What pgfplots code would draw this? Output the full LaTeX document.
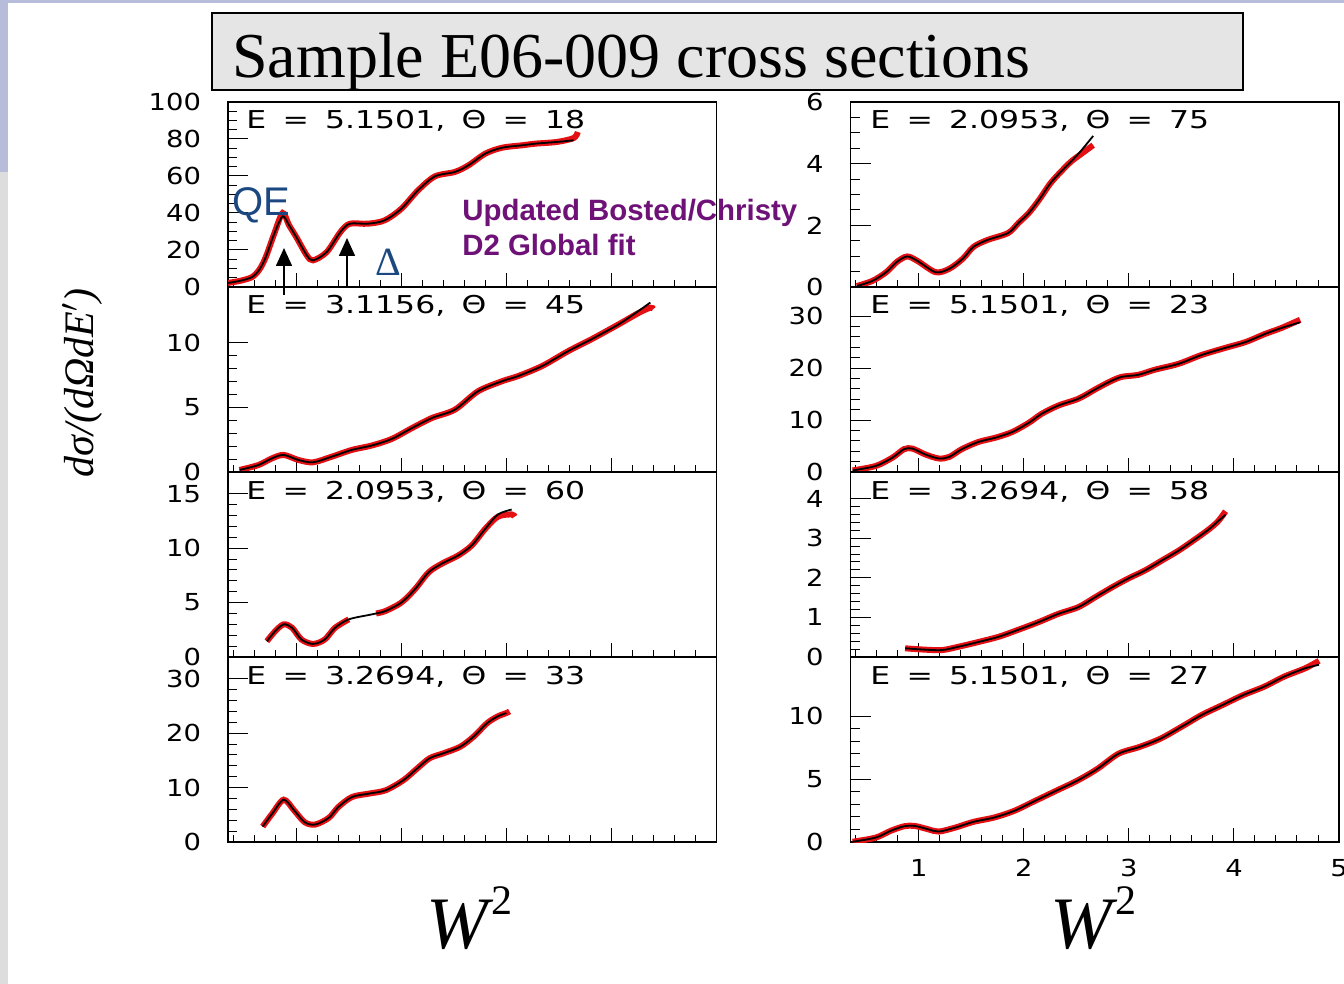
\documentclass[border=0pt]{standalone}
\usepackage{fontspec}
\setmainfont{Liberation Serif}
\newfontfamily\tickfont[FakeStretch=1.17]{DejaVu Sans}
\newfontfamily\hdrfont[FakeStretch=1.28]{DejaVu Sans}
\newfontfamily\notefont{Liberation Sans}
\usepackage{graphicx}
\usepackage{pgfplots}
\usepackage{pgfplotstable}
\pgfplotsset{compat=1.18}
\usetikzlibrary{arrows.meta}

\definecolor{dred}{RGB}{228,16,20}
\definecolor{qeblue}{RGB}{28,72,130}
\definecolor{fitpurple}{RGB}{110,18,120}
\definecolor{slidegray}{RGB}{221,221,221}
\definecolor{slideblue}{RGB}{182,188,218}
\definecolor{titlegray}{RGB}{229,229,229}

\newcommand\gap{\hspace{0.66em}}
\newcommand\hdr[2]{{\hdrfont\fontsize{12.3}{13}\selectfont E\gap=\gap#1,\gap Θ\gap=\gap#2}}
\newcommand\wsq{\textit{W}\kern-1pt\raisebox{17pt}{\fontsize{21}{21}\selectfont 2}}

% W^2 (GeV^2), fit, measured cross section
\pgfplotstableread{
W    fit   dat
0.35 2.2   2.2
0.47 3.4   3.4
0.58 5.4   5.4
0.65 9.5   9.5
0.71 16.2  16.2
0.79 28.8  28.8
0.87 38.2  40.0
0.93 33.5  33.5
1.00 27.0  27.0
1.10 17.1  17.1
1.16 14.4  14.4
1.29 18.9  18.9
1.42 29.7  29.7
1.51 34.2  34.2
1.68 34.2  34.2
1.84 36.0  36.0
2.00 42.3  42.3
2.16 52.3  52.3
2.32 59.8  59.8
2.51 62.2  62.2
2.64 65.8  65.8
2.80 72.1  72.1
2.96 75.3  75.3
3.15 76.6  76.6
3.28 77.5  77.5
3.48 78.4  78.4
3.64 79.3  80.5
3.68 nan   83.8
}\tabLa
\pgfplotstableread{
W    fit   dat
0.46 0.16  0.16
0.64 0.54  0.54
0.77 1.06  1.06
0.88 1.32  1.32
1.02 0.93  0.93
1.16 0.75  0.75
1.34 1.19  1.19
1.53 1.71  1.71
1.72 2.05  2.05
1.91 2.56  2.56
2.10 3.39  3.39
2.29 4.17  4.17
2.51 4.82  4.82
2.73 6.24  6.24
2.96 7.02  7.02
3.11 7.41  7.41
3.34 8.19  8.19
3.59 9.35  9.35
3.81 10.26 10.26
4.07 11.42 11.42
4.26 12.46 12.30
4.37 13.10 12.70
4.40 nan   12.60
}\tabLb
\pgfplotstableread{
W    fit   dat
0.72 1.45  1.45
0.80 2.38  2.38
0.88 3.00  3.00
0.96 2.69  2.69
1.05 1.60  1.60
1.16 1.20  1.20
1.27 1.60  1.60
1.37 2.69  2.69
1.50 3.46  3.46
1.69 3.86  nan
1.76 4.00  4.00
1.85 4.23  4.23
2.00 5.00  5.00
2.13 6.23  6.23
2.26 7.78  7.78
2.39 8.60  8.60
2.54 9.32  9.32
2.67 10.25 10.25
2.80 11.79 11.79
2.92 13.10 12.90
3.05 13.55 13.10
3.08 nan   12.90
}\tabLc
\pgfplotstableread{
W    fit   dat
0.68 2.84  2.84
0.77 5.19  5.19
0.88 7.78  7.78
0.98 5.80  5.80
1.08 3.64  3.64
1.18 3.21  3.21
1.31 4.44  4.44
1.40 6.42  6.42
1.53 8.27  8.27
1.69 8.89  8.89
1.85 9.50  9.50
2.02 11.36 11.36
2.15 13.50 13.50
2.27 15.40 15.40
2.40 16.30 16.30
2.56 17.50 17.50
2.69 19.40 19.40
2.82 21.90 21.90
2.92 23.10 23.10
3.00 23.70 23.70
3.03 nan   24.00
}\tabLd
\pgfplotstableread{
W    fit   dat
0.41 0.03  0.03
0.56 0.20  0.20
0.69 0.48  0.48
0.79 0.81  0.81
0.89 0.99  0.99
0.99 0.84  0.84
1.16 0.48  0.48
1.29 0.59  0.59
1.42 0.92  0.92
1.52 1.30  1.30
1.65 1.52  1.52
1.85 1.75  1.75
1.95 2.08  2.08
2.05 2.41  2.41
2.15 2.85  2.85
2.25 3.35  3.35
2.35 3.73  3.73
2.45 4.07  4.07
2.54 4.40  4.30
2.66 4.90  4.60
}\tabRa
\pgfplotstableread{
W    fit   dat
0.37 0.30  0.30
0.59 1.16  1.16
0.75 2.77  2.77
0.86 4.40  4.40
0.94 4.50  4.50
1.06 3.40  3.40
1.19 2.60  2.60
1.29 2.90  2.90
1.41 4.40  4.40
1.57 5.80  5.80
1.73 6.60  6.60
1.89 7.70  7.70
2.05 9.50  9.50
2.17 11.20 11.20
2.33 12.80 12.80
2.52 14.10 14.10
2.68 15.90 15.90
2.81 17.30 17.30
2.93 18.30 18.30
3.09 18.70 18.70
3.25 19.70 19.70
3.47 20.80 20.80
3.69 22.50 22.50
3.92 23.90 23.90
4.11 25.00 25.00
4.30 26.60 26.60
4.45 27.70 27.70
4.63 28.80 29.30
}\tabRb
\pgfplotstableread{
W    fit   dat
0.87 0.22  0.22
1.03 0.19  0.19
1.22 0.175 0.175
1.38 0.26  0.26
1.57 0.38  0.38
1.76 0.51  0.51
1.95 0.69  0.69
2.14 0.88  0.88
2.33 1.09  1.09
2.52 1.26  1.26
2.68 1.51  1.51
2.84 1.76  1.76
3.00 1.99  1.99
3.15 2.18  2.18
3.31 2.43  2.43
3.47 2.68  2.68
3.63 2.97  2.97
3.76 3.22  3.22
3.85 3.43  3.43
3.92 3.59  3.68
}\tabRc
\pgfplotstableread{
W    fit   dat
0.37 0.02  0.02
0.59 0.35  0.35
0.73 0.88  0.88
0.86 1.25  1.25
0.96 1.28  1.28
1.09 1.01  1.01
1.19 0.83  0.83
1.35 1.15  1.15
1.52 1.60  1.60
1.72 1.95  1.95
1.91 2.48  2.48
2.11 3.28  3.28
2.31 4.08  4.08
2.51 4.88  4.88
2.70 5.81  5.81
2.90 7.01  7.01
3.10 7.55  7.55
3.30 8.21  8.21
3.50 9.15  9.15
3.69 10.08 10.08
3.89 10.88 10.88
4.09 11.68 11.68
4.29 12.35 12.35
4.48 13.15 13.15
4.68 13.81 13.81
4.81 14.08 14.40
}\tabRd

\pgfplotsset{
  panel/.style={
    scale only axis, width=244.25pt, height=92.5pt,
    anchor=north west,
    xmin=0.35, xmax=5, ymin=0,
    xtick={1,2,3,4,5},
    minor xtick={0.4,0.6,0.8,1.2,1.4,1.6,1.8,2.2,2.4,2.6,2.8,3.2,3.4,3.6,3.8,4.2,4.4,4.6,4.8},
    xticklabels={},
    tick align=inside,
    xtick pos=bottom, ytick pos=left,
    major tick length=10pt, minor tick length=4.5pt,
    xtick style={/pgfplots/major tick length=7pt, /pgfplots/minor tick length=3.5pt},
    every tick/.style={black, line width=0.5pt},
    axis line style={line width=0.8pt},
    /pgf/number format/assume math mode=true,
    yticklabel style={font=\tickfont\fontsize{11.7}{12}\selectfont, xshift=-10pt},
    xticklabel style={font=\tickfont\fontsize{11.7}{12}\selectfont, yshift=-5pt},
  },
  fit/.style={black, line width=0.9pt, smooth, tension=0.5, no marks},
  dat/.style={dred, line width=3pt, smooth, tension=0.5, no marks, unbounded coords=jump},
}

\begin{document}
\begin{tikzpicture}
\useasboundingbox (0,0) rectangle (672pt,-492pt);
\clip (0,0) rectangle (672pt,-492pt);
\fill[white] (0,0) rectangle (672pt,-492pt);
\fill[slidegray] (0,-86pt) rectangle (4pt,-492pt);
\fill[slideblue] (0,0) rectangle (4pt,-86pt);
\fill[slideblue] (0,0) rectangle (672pt,-1.5pt);

% title box
\draw[fill=titlegray, line width=1pt] (106pt,-6.5pt) rectangle (621.5pt,-45pt);
\node[anchor=base west, inner sep=0pt, font=\fontsize{32}{34}\selectfont] at (116pt,-39pt) {Sample E06-009 cross sections};

% left column
\begin{axis}[panel, at={(114pt,-51pt)}, ymax=100, ytick={0,20,...,100}, minor y tick num=3]
  \addplot[dat] table[x=W,y=dat] {\tabLa};
  \addplot[fit] table[x=W,y=fit] {\tabLa};
\end{axis}
\begin{axis}[panel, at={(114pt,-143.5pt)}, ymax=14.3, ytick={0,5,10}, minor y tick num=4]
  \addplot[dat] table[x=W,y=dat] {\tabLb};
  \addplot[fit] table[x=W,y=fit] {\tabLb};
\end{axis}
\begin{axis}[panel, at={(114pt,-236pt)}, ymax=17, ytick={0,5,10,15}, minor y tick num=4]
  \addplot[dat] table[x=W,y=dat] {\tabLc};
  \addplot[fit] table[x=W,y=fit] {\tabLc};
\end{axis}
\begin{axis}[panel, at={(114pt,-328.5pt)}, ymax=34, ytick={0,10,20,30}, minor y tick num=4]
  \addplot[dat] table[x=W,y=dat] {\tabLd};
  \addplot[fit] table[x=W,y=fit] {\tabLd};
\end{axis}

% right column
\begin{axis}[panel, at={(425.25pt,-51pt)}, ymax=6, ytick={0,2,4,6}, minor y tick num=3]
  \addplot[dat] table[x=W,y=dat] {\tabRa};
  \addplot[fit] table[x=W,y=fit] {\tabRa};
\end{axis}
\begin{axis}[panel, at={(425.25pt,-143.5pt)}, ymax=35.6, ytick={0,10,20,30}, minor y tick num=4]
  \addplot[dat] table[x=W,y=dat] {\tabRb};
  \addplot[fit] table[x=W,y=fit] {\tabRb};
\end{axis}
\begin{axis}[panel, at={(425.25pt,-236pt)}, ymax=4.67, ytick={0,1,2,3,4}, minor y tick num=4]
  \addplot[dat] table[x=W,y=dat] {\tabRc};
  \addplot[fit] table[x=W,y=fit] {\tabRc};
\end{axis}
\begin{axis}[panel, at={(425.25pt,-328.5pt)}, ymax=14.7, ytick={0,5,10}, minor y tick num=4,
    xticklabels={1,2,3,4,5}]
  \addplot[dat] table[x=W,y=dat] {\tabRd};
  \addplot[fit] table[x=W,y=fit] {\tabRd};
\end{axis}

% kinematics of each spectrum
\node[anchor=base west, inner sep=0pt] at (123pt,-64.5pt) {\hdr{5.1501}{18}};
\node[anchor=base west, inner sep=0pt] at (123pt,-157pt) {\hdr{3.1156}{45}};
\node[anchor=base west, inner sep=0pt] at (123pt,-249.5pt) {\hdr{2.0953}{60}};
\node[anchor=base west, inner sep=0pt] at (123pt,-342pt) {\hdr{3.2694}{33}};
\node[anchor=base west, inner sep=0pt] at (435pt,-64.5pt) {\hdr{2.0953}{75}};
\node[anchor=base west, inner sep=0pt] at (435pt,-157pt) {\hdr{5.1501}{23}};
\node[anchor=base west, inner sep=0pt] at (435pt,-249.5pt) {\hdr{3.2694}{58}};
\node[anchor=base west, inner sep=0pt] at (435pt,-342pt) {\hdr{5.1501}{27}};

% peak markers
\draw[line width=0.8pt, -{Triangle[width=8pt,length=9pt]}] (142pt,-147.5pt) -- (142pt,-124pt);
\draw[line width=0.8pt, -{Triangle[width=8pt,length=9pt]}] (173.5pt,-143.5pt) -- (173.5pt,-119pt);
\node[anchor=base west, inner sep=0pt, text=qeblue, font=\notefont\fontsize{20}{22}\selectfont] at (116pt,-108pt) {QE};
\node[anchor=base west, inner sep=0pt, text=qeblue, font=\fontsize{20}{22}\selectfont] at (187.5pt,-138pt) {Δ};
\node[anchor=base west, inner sep=0pt, text=fitpurple, font=\notefont\bfseries\fontsize{14.7}{16}\selectfont] at (231pt,-110.5pt) {Updated Bosted/Christy};
\node[anchor=base west, inner sep=0pt, text=fitpurple, font=\notefont\bfseries\fontsize{14.7}{16}\selectfont] at (231pt,-128pt) {D2 Global fit};

% axis titles
\node[rotate=90, font=\fontsize{21}{23}\selectfont\itshape] at (41pt,-191.5pt) {dσ/(dΩdE$'$)};
\node[anchor=base west, inner sep=0pt, font=\fontsize{37}{39}\selectfont] at (213pt,-474pt) {\wsq};
\node[anchor=base west, inner sep=0pt, font=\fontsize{37}{39}\selectfont] at (525pt,-474pt) {\wsq};
\end{tikzpicture}
\end{document}
